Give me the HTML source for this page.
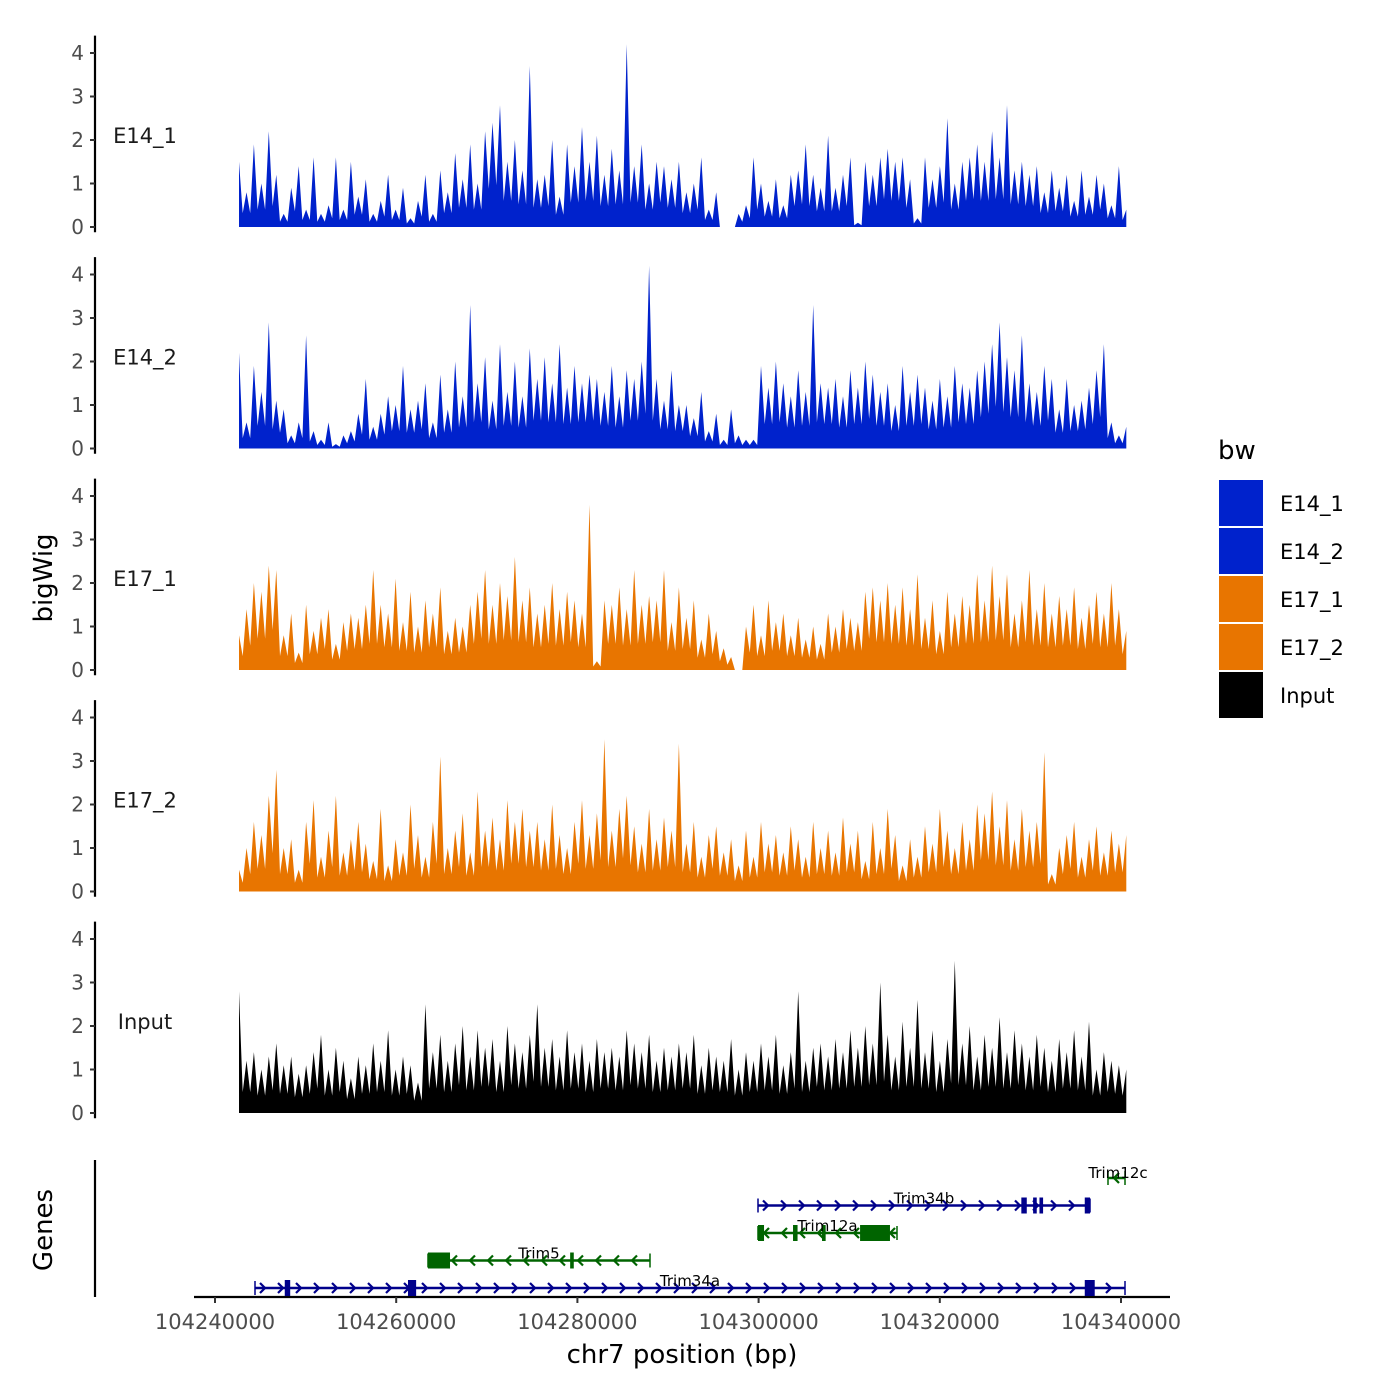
<!DOCTYPE html>
<html><head><meta charset="utf-8"><style>
body{margin:0;background:#fff}
svg{display:block;font-family:"DejaVu Sans","Liberation Sans",sans-serif}
</style></head><body>
<svg id="c" width="1400" height="1400" xmlns="http://www.w3.org/2000/svg"></svg>
<script>
const trackNames = ["E14_1","E14_2","E17_1","E17_2","Input"];
const trackColors = ["#0022CC","#0022CC","#E87500","#E87500","#000000"];
const binStart = 104242650;
const binStep = 823;
const e14_1 = [1.5,0.8,1.9,1.0,2.2,1.2,0.3,0.9,1.4,0.4,1.6,0.3,0.5,1.6,0.4,1.5,0.7,1.1,0.3,0.6,1.2,0.4,0.9,0.2,0.6,1.2,0.3,1.3,0.8,1.7,1.1,1.9,1.0,2.2,2.4,2.8,1.5,2.0,1.3,3.7,1.1,1.2,2.0,0.7,1.9,1.4,2.3,1.5,2.1,1.2,1.8,1.3,4.2,1.4,1.9,1.0,1.5,1.4,1.1,1.5,0.8,1.0,1.6,0.4,0.8,0.0,0.0,0.3,0.5,1.6,1.0,0.6,1.1,0.5,1.2,1.3,1.9,1.2,0.9,2.1,0.9,1.2,1.6,0.1,1.5,1.2,1.6,1.8,1.5,1.6,1.1,0.2,1.6,1.1,1.4,2.5,1.0,1.5,1.6,1.9,1.5,2.2,1.6,2.8,1.3,1.5,1.2,1.4,0.8,1.3,0.9,1.2,0.6,1.3,0.7,1.2,1.0,0.5,1.4,0.4];
const e14_2 = [2.2,0.6,1.9,1.3,2.9,1.1,0.9,0.3,0.6,2.6,0.4,0.2,0.6,0.1,0.3,0.4,0.8,1.6,0.5,0.8,1.2,1.0,1.9,0.9,1.1,1.5,0.6,1.7,0.9,2.0,1.2,3.3,1.5,2.1,1.1,2.4,1.3,2.0,1.2,2.3,1.6,2.1,1.5,2.4,1.4,1.9,1.5,1.7,1.6,1.3,1.9,1.2,1.8,1.6,2.0,4.2,1.6,1.1,1.8,1.0,1.0,0.7,1.3,0.4,0.8,0.2,0.9,0.3,0.2,0.2,1.9,1.4,2.0,1.5,1.2,1.8,1.3,3.3,1.5,1.4,1.6,1.2,1.8,1.4,2.0,1.7,1.3,1.5,1.0,1.9,1.3,1.7,1.4,1.1,1.6,1.2,1.9,1.5,1.4,1.8,2.0,2.4,2.9,2.1,1.8,2.6,1.5,1.3,1.9,1.6,0.9,1.6,1.0,1.1,1.4,1.8,2.4,0.6,0.3,0.5];
const e17_1 = [0.8,1.4,2.0,1.8,2.4,2.3,0.8,1.3,0.4,1.5,0.9,1.2,1.4,0.6,1.1,1.3,1.2,1.5,2.3,1.5,1.3,2.1,1.1,1.8,1.0,1.6,1.3,1.9,0.9,1.2,1.0,1.5,1.8,2.3,1.5,2.0,1.7,2.6,1.6,1.9,1.3,1.5,2.0,1.4,1.8,1.6,1.3,3.8,0.2,1.6,1.5,1.9,1.4,2.3,1.5,1.7,1.6,2.3,1.1,1.9,1.2,1.6,0.7,1.3,0.9,0.5,0.3,0.0,1.0,1.5,0.8,1.6,1.1,1.3,0.8,1.2,0.7,1.0,0.6,1.3,1.0,1.4,1.2,1.1,1.8,1.9,1.6,2.0,1.5,1.9,1.4,2.2,1.2,1.6,0.9,1.8,1.3,1.7,1.5,2.2,1.6,2.4,1.7,2.2,1.3,1.6,2.3,1.4,2.0,1.3,1.7,1.4,1.9,1.2,1.5,1.8,1.3,2.0,1.4,0.9];
const e17_2 = [0.5,1.0,1.6,1.3,2.2,2.8,1.0,1.2,0.5,1.6,2.1,0.8,1.4,2.2,0.9,1.2,1.6,1.1,0.7,1.9,0.6,1.2,0.9,2.0,1.3,0.8,1.6,3.1,1.0,1.4,1.8,0.9,2.3,1.4,1.7,1.2,2.1,1.6,1.9,1.4,1.6,1.2,2.0,1.3,1.0,1.6,2.1,1.3,1.8,3.5,1.4,1.9,2.2,1.5,1.1,1.9,1.2,1.7,1.4,3.4,1.1,1.6,0.8,1.3,1.5,0.9,1.2,0.6,1.4,0.8,1.6,1.1,1.3,0.9,1.5,1.2,0.8,1.6,1.0,1.4,0.9,1.7,1.1,1.4,0.7,1.6,1.0,1.9,1.3,0.6,1.2,0.8,1.5,1.1,1.9,1.4,1.0,1.6,1.2,2.0,1.8,2.3,1.5,2.1,1.2,1.9,1.4,1.6,3.2,0.4,1.0,1.3,1.6,0.8,1.2,1.5,0.9,1.4,1.1,1.3];
const input = [2.8,1.2,1.4,1.0,1.3,1.6,1.1,1.3,0.9,1.1,1.4,1.8,1.0,1.5,1.2,0.8,1.3,1.1,1.6,1.2,1.9,1.0,1.3,1.1,0.7,2.5,1.4,1.8,1.2,1.6,2.0,1.3,1.9,1.5,1.7,1.2,2.0,1.6,1.4,1.8,2.5,1.5,1.7,1.3,1.9,1.4,1.6,1.2,1.7,1.4,1.5,1.3,1.9,1.6,1.4,1.8,1.2,1.5,1.3,1.6,1.4,1.8,1.1,1.5,1.3,1.2,1.7,1.0,1.4,1.2,1.6,1.3,1.8,1.1,1.4,2.8,1.2,1.5,1.6,1.3,1.7,1.4,1.9,1.5,2.0,1.6,3.0,1.8,1.3,2.1,1.5,2.6,1.4,1.9,1.2,1.7,3.5,1.6,2.0,1.3,1.8,1.5,2.2,1.4,1.9,1.6,1.3,1.8,1.5,1.2,1.7,1.4,1.9,1.3,2.1,1.0,1.4,1.2,1.1,1.0];
const trackValues = [e14_1,e14_2,e17_1,e17_2,input];
const yTicks = [0,1,2,3,4];
const xTicks = [104240000,104260000,104280000,104300000,104320000,104340000];
const geneNames = ["Trim34a","Trim5","Trim12a","Trim34b","Trim12c"];
const geneStarts = [104244415,104263510,104299934,104299934,104338565];
const geneEnds = [104340442,104288013,104315276,104336578,104340442];
const geneStrands = ["+","-","-","+","-"];
const geneRows = [0,1,2,3,4];
const geneExons = [[[104247700,104248300],[104261300,104262200],[104336000,104337100]],
  [[104263510,104265940],[104279200,104279600]],
  [[104299934,104300600],[104303800,104304300],[104307000,104307400],[104311200,104314500]],
  [[104329000,104329600],[104330300,104330700],[104331000,104331400],[104336000,104336578]],
  []];

const NS="http://www.w3.org/2000/svg";
const svg=document.getElementById('c');
function el(t,a,p){const e=document.createElementNS(NS,t);for(const k in a)e.setAttribute(k,a[k]);(p||svg).appendChild(e);return e;}
const xs=bp=>215+(bp-104240000)*0.00906;
const ys=(v,p)=>227+p*221.5-v*43.5;

trackValues.forEach((vals,p)=>{
  const g=el('g',{});
  
  
  let d='M'+xs(binStart)+','+ys(0,p);
  vals.forEach((v,i)=>{
    const x=xs(binStart+i*binStep);
    d+=' L'+x.toFixed(1)+','+ys(v,p).toFixed(1);
    if(i<vals.length-1){const xm=xs(binStart+(i+0.5)*binStep);d+=' L'+xm.toFixed(1)+','+ys(0.4*Math.min(v,vals[i+1]),p).toFixed(1);}
  });
  d+=' L'+xs(binStart+(vals.length-1)*binStep).toFixed(1)+','+ys(0,p)+' Z';
  const a=el('path',{d:d,fill:trackColors[p],stroke:'none'},g);
  
  
  const ax=el('line',{x1:95,x2:95,y1:ys(4.4,p),y2:ys(-0.12,p),stroke:'#000','stroke-width':2.2},g);
  
  
  yTicks.forEach(t=>{
    el('line',{x1:90,x2:95,y1:ys(t,p),y2:ys(t,p),stroke:'#333','stroke-width':2},g);
    const tx=el('text',{x:84,y:ys(t,p)+7,'text-anchor':'end','font-size':20,fill:'#4d4d4d'},g);
    tx.textContent=t;
    
    
  });
  const lb=el('text',{x:145,y:ys(2,p)+3,'text-anchor':'middle','font-size':21,fill:'#1a1a1a'},g);
  lb.textContent=trackNames[p];
  
  
});

const yt=el('text',{x:0,y:0,transform:'translate(52,578) rotate(-90)','text-anchor':'middle','font-size':26,fill:'#000'});
yt.textContent='bigWig';



const lg=el('g',{});


const lt=el('text',{x:1218,y:459,'font-size':26,fill:'#000'},lg);lt.textContent='bw';
trackNames.forEach((n,i)=>{
  const r=el('rect',{x:1219,y:480+i*48,width:44,height:46,fill:trackColors[i]},lg);
  
  
  const t=el('text',{x:1280,y:511+i*48,'font-size':21,fill:'#000'},lg);t.textContent=n;
  
  
});

const gp=el('g',{});


el('line',{x1:95,x2:95,y1:1160,y2:1297,stroke:'#000','stroke-width':2.2},gp);
el('line',{x1:194,x2:1170,y1:1297,y2:1297,stroke:'#000','stroke-width':2.2},gp);
const gt=el('text',{x:0,y:0,transform:'translate(52,1230) rotate(-90)','text-anchor':'middle','font-size':26,fill:'#000'},gp);gt.textContent='Genes';


xTicks.forEach(t=>{
  el('line',{x1:xs(t),x2:xs(t),y1:1297,y2:1303,stroke:'#333','stroke-width':2},gp);
  const tx=el('text',{x:xs(t),y:1329,'text-anchor':'middle','font-size':21,fill:'#4d4d4d'},gp);tx.textContent=t;
  
  
});
const xt=el('text',{x:682,y:1363,'text-anchor':'middle','font-size':26,fill:'#000'},gp);xt.textContent='chr7 position (bp)';



geneNames.forEach((n,i)=>{
  const col=geneStrands[i]=='+'?'#00008B':'#006400';
  const y=1288-geneRows[i]*27.5;
  const g=el('g',{},gp);
  
  
  const x1=xs(geneStarts[i]),x2=xs(geneEnds[i]);
  el('line',{x1:x1,x2:x2,y1:y,y2:y,stroke:col,'stroke-width':2.5},g);
  el('line',{x1:x1,x2:x1,y1:y-7,y2:y+7,stroke:col,'stroke-width':1.5},g);
  el('line',{x1:x2,x2:x2,y1:y-7,y2:y+7,stroke:col,'stroke-width':1.5},g);
  for(let x=x1+8;x<x2-4;x+=18){
    const d=geneStrands[i]=='+'?`M${x-3},${y-5} L${x+2},${y} L${x-3},${y+5}`:`M${x+3},${y-5} L${x-2},${y} L${x+3},${y+5}`;
    el('path',{d:d,fill:'none',stroke:col,'stroke-width':2.2},g);
  }
  geneExons[i].forEach(e=>{
    const ex=el('rect',{x:xs(e[0]),y:y-8,width:Math.max(3,xs(e[1])-xs(e[0])),height:16,fill:col},g);
    
    
  });
  const lbl=el('text',{x:(x1+x2)/2,y:y-2,'text-anchor':'middle','font-size':15,fill:'#000'},g);lbl.textContent=n;
  if(n==='Trim12c'){lbl.setAttribute('x',1118);lbl.setAttribute('y',y);}
});
</script>
</body></html>
